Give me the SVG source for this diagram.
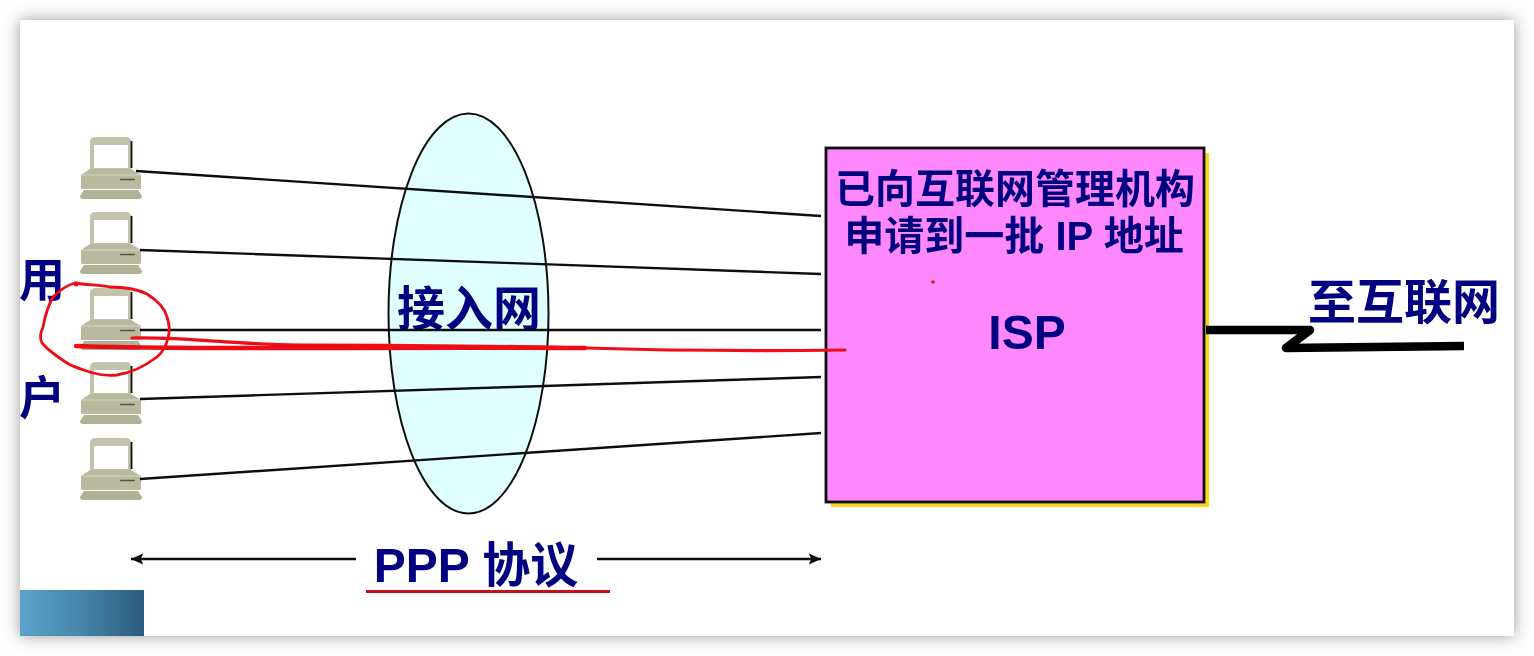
<svg xmlns="http://www.w3.org/2000/svg" width="1534" height="656" viewBox="0 0 1534 656">
<style>
.cn{font-family:"Liberation Sans","Noto Sans CJK SC",sans-serif;font-weight:700;fill:#000080}
.wire{stroke:#111;stroke-width:2.400;fill:none}
.red{stroke:#ee0c18;fill:none;stroke-linecap:round;stroke-linejoin:round}
</style>
<defs>
<filter id="sh" x="-5%" y="-10%" width="110%" height="120%"><feGaussianBlur stdDeviation="8"/></filter>
<filter id="soft" x="0" y="0" width="1534" height="656" filterUnits="userSpaceOnUse"><feGaussianBlur stdDeviation="0.6"/></filter>
<linearGradient id="bl" x1="0" x2="1" y1="0" y2="0"><stop offset="0" stop-color="#5ca3cb"/><stop offset="0.45" stop-color="#4788ac"/><stop offset="1" stop-color="#2b5c7e"/></linearGradient>
<marker id="ah" markerWidth="14" markerHeight="12" refX="12" refY="6" orient="auto-start-reverse" markerUnits="userSpaceOnUse"><path d="M0,0.500 L12,6 L0,11.500 L2,6 Z" fill="#111"/></marker>
<g id="pc">
<path d="M90,142 Q90,137 96,137 L126,137 Q131,137 131,142 L131,169 L90,169 Z" fill="#c3c3ab"/>
<rect x="94" y="145" width="34" height="23" fill="#fff"/>
<path d="M131.500,141 V168" stroke="#111" stroke-width="1.800"/>
<path d="M90,169 H131 L141,175 V188 Q141,189 139,189 H83 Q81,189 81,188 V175 Z" fill="#b9b99f"/>
<path d="M81,175 H141" stroke="#d6d6c4" stroke-width="1"/>
<path d="M120,179.500 H135" stroke="#55553f" stroke-width="1.500"/>
<path d="M84,190 H138 L142,196 Q142,199 139,199 H83 Q80,199 80,196 Z" fill="#b1b197"/>
</g>
</defs>

<rect width="1534" height="656" fill="#fefefe"/>
<rect x="20" y="20" width="1494" height="616" fill="#9a9a9a" filter="url(#sh)"/>
<rect x="20" y="20" width="1494" height="616" fill="#fff"/>
<g id="content" filter="url(#soft)">
<rect id="corner" x="20" y="590" width="124" height="46" fill="url(#bl)"/>

<g id="access-network">
<ellipse cx="468.500" cy="313.500" rx="80" ry="200" fill="#e0ffff" stroke="#111" stroke-width="2"/>
<text class="cn" x="469" y="326" font-size="48" text-anchor="middle">接入网</text>
</g>

<g id="isp">
<rect x="831" y="153" width="378" height="354" fill="#ffd51c"/>
<rect x="826" y="148" width="378" height="354" fill="#ff88ff" stroke="#111" stroke-width="2.800"/>
<text class="cn" x="1015" y="203" font-size="40" text-anchor="middle">已向互联网管理机构</text>
<text class="cn" x="1014" y="250" font-size="40" text-anchor="middle">申请到一批 IP 地址</text>
<text class="cn" x="1027" y="349" font-size="48" text-anchor="middle">ISP</text>
<circle cx="933" cy="282" r="1.800" fill="#e8101c"/>
</g>

<g id="user1"><use href="#pc"/></g>
<g id="user2"><use href="#pc" y="75"/></g>
<g id="user3"><use href="#pc" y="151"/></g>
<g id="user4"><use href="#pc" y="225"/></g>
<g id="user5"><use href="#pc" y="301"/></g>

<g id="connectors">
<path class="wire" d="M136,171 L821,216"/>
<path class="wire" d="M140,250 L821,274"/>
<path class="wire" d="M140,330 H821"/>
<path class="wire" d="M140,399 L821,377"/>
<path class="wire" d="M140,479 L821,433"/>
<path d="M1206,330 H1310 L1286,348 L1464,346" fill="none" stroke="#000" stroke-width="8.500" stroke-linejoin="round"/>
<path d="M356,559 H131" stroke="#111" stroke-width="2.400" marker-end="url(#ah)"/>
<path d="M597,559 H821" stroke="#111" stroke-width="2.400" marker-end="url(#ah)"/>
</g>

<g id="user-label">
<text class="cn" x="42" y="296" font-size="46" text-anchor="middle">用</text>
<text class="cn" x="42" y="414" font-size="46" text-anchor="middle">户</text>
</g>
<g id="internet-label">
<text class="cn" x="1404" y="319" font-size="48" text-anchor="middle">至互联网</text>
</g>
<g id="ppp-label">
<text class="cn" x="476" y="582" font-size="48" text-anchor="middle">PPP 协议</text>
<path d="M366,591.500 H610" stroke="#c8101c" stroke-width="2.800"/>
</g>

<g id="annotation">
<path class="red" stroke-width="2.800" d="M75,283 C88,285 100,285 110,287 C125,287 137,289 147,294 C158,301 165,308 167,317 C170,326 170,332 168,338 C166,347 163,352 157,357 C145,366 130,373 117,375 C108,376 100,375 93,373 C84,370 75,368 67,363 C56,356 48,350 42,343 C39,337 41,332 43,327 C45,316 48,306 53,297 C60,290 67,285 75,283 Z"/>
<circle cx="76" cy="284" r="2.500" fill="#ee0c18"/>
<path class="red" stroke-width="4.500" d="M76,346 C180,350 320,347 585,348"/>
<path class="red" stroke-width="3.200" d="M132,338 C190,337 240,345 300,345 C400,345 500,346 585,348 C680,351 760,351 845,350"/>
</g>
</g>
</svg>
